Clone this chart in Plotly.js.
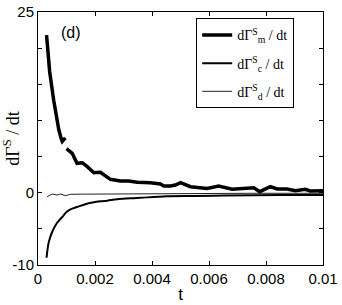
<!DOCTYPE html>
<html>
<head>
<meta charset="utf-8">
<script src="https://cdn.plot.ly/plotly-3.0.1.min.js"></script>
<style>html,body{margin:0;padding:0;background:#fff;}#chart{width:342px;height:305px;}</style>
</head>
<body>
<div id="chart"></div>
<script>
// dΓm/dt (thick) — null marks the visible gap in the curve
var tM = [0.00030, 0.00041, 0.00055, 0.00073, 0.00082, 0.00085, 0.00096, 0.00098,
          0.00100, 0.00120, 0.00137, 0.00155, 0.00173, 0.00196, 0.00219, 0.00254,
          0.00289, 0.00318, 0.00348, 0.00394, 0.00430, 0.00441, 0.00465, 0.00482,
          0.00500, 0.00535, 0.00593, 0.00634, 0.00681, 0.00757, 0.00778, 0.00815,
          0.00839, 0.00874, 0.00903, 0.00938, 0.00955, 0.01000];
var vM = [21.8, 16.7, 12.8, 8.7, 7.4, 7.1, 7.6, null,
          6.1, 5.45, 4.07, 4.15, 3.6, 2.77, 2.82, 1.85,
          1.62, 1.62, 1.44, 1.38, 1.2, 0.93, 0.93, 1.07,
          1.38, 0.83, 0.6, 0.93, 0.47, 0.69, 0.14, 0.83,
          0.51, 0.51, 0.28, 0.47, 0.24, 0.28];

// dΓc/dt (medium)
var tC = [0.00030, 0.00038, 0.00050, 0.00067, 0.00085, 0.00100, 0.00114, 0.00137,
          0.00172, 0.00219, 0.00243, 0.00278, 0.00336, 0.00360, 0.00453, 0.00550,
          0.00650, 0.00750, 0.00850, 0.00950, 0.01000];
var vC = [-9.0, -6.8, -5.4, -4.15, -3.36, -2.67, -2.3, -1.98,
          -1.52, -1.19, -1.1, -0.91, -0.75, -0.7, -0.5, -0.45,
          -0.4, -0.36, -0.33, -0.31, -0.3];

// dΓd/dt (thin)
var tD = [0.00032, 0.00050, 0.00067, 0.00079, 0.00096, 0.00114, 0.00150, 0.00240,
          0.00300, 0.00360, 0.00450, 0.00600, 0.00750, 0.00900, 0.01000];
var vD = [-0.55, -0.18, -0.32, -0.18, -0.41, -0.22, -0.2, -0.18,
          -0.14, -0.08, -0.1, -0.09, -0.08, -0.08, -0.08];

var seriesNames = ['dΓ<sup>S</sup><sub>m</sub> / dt', 'dΓ<sup>S</sup><sub>c</sub> / dt', 'dΓ<sup>S</sup><sub>d</sub> / dt'];

var yTickVals = [-10, 0, 25];
var yTickText = ['-10', '0', '25'];
var yMinorVals = [-5, 5, 10, 15, 20];
var xTickVals = [0, 0.002, 0.004, 0.006, 0.008, 0.01];
var xTickText = ['0', '0.002', '0.004', '0.006', '0.008', '0.01'];

var traces = [
  {x: tM, y: vM, name: seriesNames[0], legendgroup: 'm', mode: 'lines', connectgaps: false,
   line: {color: '#000', width: 3.5}},
  {x: tC, y: vC, name: seriesNames[1], legendgroup: 'c', mode: 'lines', line: {color: '#000', width: 2, shape: 'spline'}},
  {x: tD, y: vD, name: seriesNames[2], legendgroup: 'd', mode: 'lines', line: {color: '#222', width: 1}}
];

var sans = 'Liberation Sans, Arial, sans-serif';
var serif = 'Liberation Serif, Times New Roman, serif';

var layout = {
  width: 342, height: 305,
  margin: {l: 37.5, r: 19.3, t: 12, b: 40.3},
  paper_bgcolor: '#fff', plot_bgcolor: '#fff',
  showlegend: true,
  legend: {x: 0.555, y: 0.975, xanchor: 'left', yanchor: 'top',
           bordercolor: '#000', borderwidth: 1, bgcolor: '#fff',
           traceorder: 'grouped', tracegroupgap: 7,
           font: {family: serif, size: 14, color: '#000'}},
  xaxis: {range: [0, 0.01], tickvals: xTickVals, ticktext: xTickText,
          ticks: 'inside', ticklen: 4, tickcolor: '#000', mirror: 'ticks',
          showline: true, linecolor: '#000', linewidth: 1, showgrid: false, zeroline: false,
          tickfont: {family: sans, size: 15, color: '#000'},
          title: {text: 't', font: {family: sans, size: 17, color: '#000'}, standoff: 2}},
  yaxis: {range: [-10, 25], tickvals: yTickVals, ticktext: yTickText,
          ticks: 'inside', ticklen: 4, tickcolor: '#000', mirror: 'ticks',
          minor: {tickvals: yMinorVals, ticks: 'inside', ticklen: 4, tickcolor: '#000', showgrid: false},
          showline: true, linecolor: '#000', linewidth: 1, showgrid: false, zeroline: false,
          tickfont: {family: sans, size: 15, color: '#000'},
          title: {text: 'dΓ<sup>S</sup> / dt', font: {family: serif, size: 18, color: '#000'}, standoff: 0}},
  annotations: [{text: '(d)', xref: 'paper', yref: 'paper', x: 0.072, y: 0.917,
                 xanchor: 'left', yanchor: 'middle', showarrow: false,
                 font: {family: sans, size: 16, color: '#000'}}]
};

Plotly.newPlot('chart', traces, layout, {displayModeBar: false, staticPlot: true});
</script>
</body>
</html>
